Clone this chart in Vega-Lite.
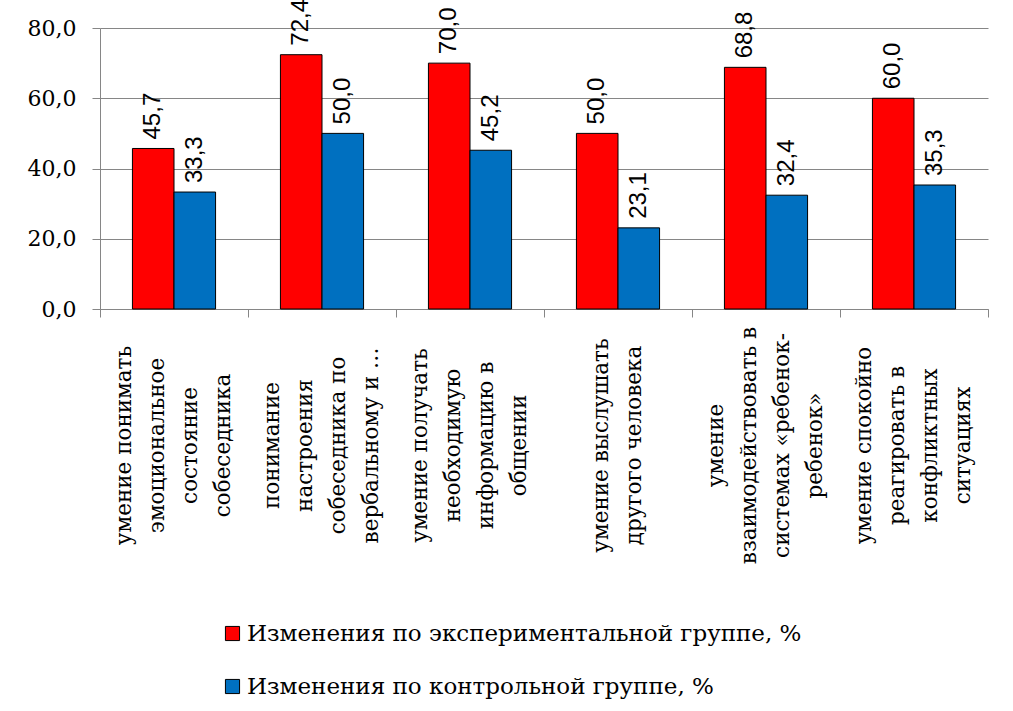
{
  "$schema": "https://vega.github.io/schema/vega-lite/v6.json",
  "width": 888,
  "height": 281,
  "autosize": "none",
  "padding": {"left": 100, "top": 28, "right": 25, "bottom": 402},
  "background": "white",
  "config": {
    "locale": {"number": {"decimal": ",", "thousands": " ", "grouping": [3], "currency": ["", ""]}},
    "view": {"stroke": null}
  },
  "data": {
    "values": [
      {"cat": "умение понимать|эмоциональное|состояние|собеседника", "series": "Изменения по экспериментальной группе, %", "value": 45.7},
      {"cat": "умение понимать|эмоциональное|состояние|собеседника", "series": "Изменения по контрольной группе, %", "value": 33.3},
      {"cat": "понимание|настроения|собеседника по|вербальному и …", "series": "Изменения по экспериментальной группе, %", "value": 72.4},
      {"cat": "понимание|настроения|собеседника по|вербальному и …", "series": "Изменения по контрольной группе, %", "value": 50.0},
      {"cat": "умение  получать|необходимую|информацию в|общении", "series": "Изменения по экспериментальной группе, %", "value": 70.0},
      {"cat": "умение  получать|необходимую|информацию в|общении", "series": "Изменения по контрольной группе, %", "value": 45.2},
      {"cat": "умение выслушать|другого человека", "series": "Изменения по экспериментальной группе, %", "value": 50.0},
      {"cat": "умение выслушать|другого человека", "series": "Изменения по контрольной группе, %", "value": 23.1},
      {"cat": "умение|взаимодействовать в|системах «ребенок-|ребенок»", "series": "Изменения по экспериментальной группе, %", "value": 68.8},
      {"cat": "умение|взаимодействовать в|системах «ребенок-|ребенок»", "series": "Изменения по контрольной группе, %", "value": 32.4},
      {"cat": "умение спокойно|реагировать в|конфликтных|ситуациях", "series": "Изменения по экспериментальной группе, %", "value": 60.0},
      {"cat": "умение спокойно|реагировать в|конфликтных|ситуациях", "series": "Изменения по контрольной группе, %", "value": 35.3}
    ]
  },
  "encoding": {
    "x": {
      "field": "cat", "type": "nominal", "sort": null,
      "scale": {"paddingInner": 0, "paddingOuter": 0},
      "axis": {
        "title": null,
        "labelExpr": "split(datum.label, '|')",
        "labelAngle": -90,
        "labelAlign": "center",
        "labelBaseline": "middle",
        "labelOffset": {"condition": {"test": "length(split(datum.label, '|')) == 2", "value": -17}, "value": -50},
        "labelPadding": 128,
        "labelLimit": 0,
        "labelFont": "DejaVu Serif",
        "labelFontSize": 21.5,
        "labelLineHeight": 33,
        "labelColor": "black",
        "tickBand": "extent",
        "tickSize": 8,
        "tickColor": "#868686",
        "domainColor": "#868686",
        "grid": false
      }
    },
    "xOffset": {
      "field": "series", "type": "nominal", "sort": null,
      "scale": {"paddingInner": 0, "paddingOuter": 0.78}
    },
    "y": {
      "field": "value", "type": "quantitative",
      "scale": {"domain": [0, 80]},
      "axis": {
        "title": null,
        "values": [0, 20, 40, 60, 80],
        "format": ".1f",
        "labelFont": "DejaVu Serif",
        "labelFontSize": 22,
        "labelColor": "black",
        "labelPadding": 16,
        "tickSize": 8,
        "tickColor": "#868686",
        "domainColor": "#868686",
        "gridColor": "#868686"
      }
    }
  },
  "layer": [
    {
      "mark": {"type": "bar", "stroke": "black", "strokeWidth": 1},
      "encoding": {
        "color": {
          "field": "series", "type": "nominal", "sort": null,
          "scale": {"range": ["#FF0000", "#0070C0"]},
          "legend": {
            "title": null,
            "orient": "none",
            "legendX": 121,
            "legendY": 594,
            "direction": "vertical",
            "symbolType": "square",
            "symbolSize": 200,
            "symbolStrokeColor": "black",
            "symbolStrokeWidth": 1,
            "symbolOpacity": 1,
            "labelFont": "DejaVu Serif",
            "labelFontSize": 23,
            "labelColor": "black",
            "labelLimit": 0,
            "labelOffset": 3,
            "rowPadding": 29
          }
        }
      }
    },
    {
      "mark": {"type": "text", "angle": -90, "align": "left", "baseline": "middle", "dx": 9, "font": "Liberation Sans", "fontSize": 24, "color": "black"},
      "encoding": {
        "text": {"field": "value", "type": "quantitative", "format": ".1f"}
      }
    }
  ]
}
